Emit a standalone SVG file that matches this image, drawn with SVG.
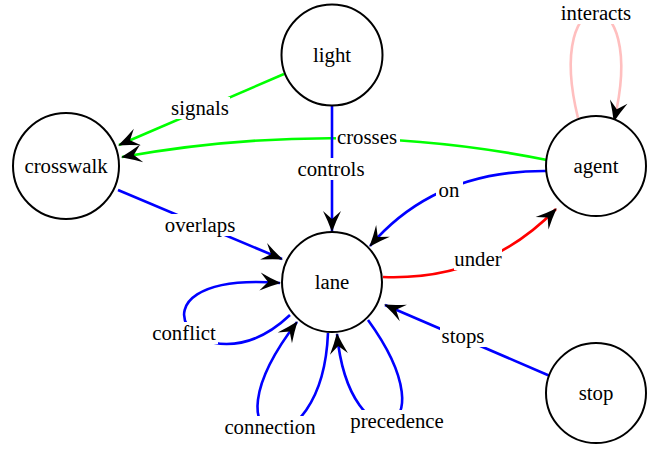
<svg xmlns="http://www.w3.org/2000/svg" width="665" height="449" viewBox="0 0 665 449">
<style>
text{font-family:"Liberation Serif","Times New Roman",serif;font-size:20.8px;fill:#000;text-anchor:middle}
.node circle{fill:#fff;stroke:#000;stroke-width:2}
.e{fill:none;stroke-width:2.6;marker-end:url(#arr)}
.g{stroke:#00ff00}.b{stroke:#0000ff}.r{stroke:#ff0000}.p{stroke:#ffbfbf}
.bg{fill:#fff;stroke:none}
</style>
<defs>
<marker id="arr" markerUnits="userSpaceOnUse" markerWidth="26" markerHeight="22" viewBox="-23 -11 26 22" refX="0" refY="0" orient="auto">
<path d="M1,0 Q-10,-4 -20,-9 L-12,0 L-20,9 Q-10,4 1,0 Z" fill="#000"/>
</marker>
</defs>
<g id="edges">
<path class="e g" d="M284,74 L119,145"/>
<path class="e g" d="M547,160 Q340,118 122,157"/>
<path class="e b" d="M332,106 L332,231"/>
<path class="e b" d="M118,190 L282,259"/>
<path class="e b" d="M547,171 Q435,170 370,246"/>
<path class="e r" d="M383,277 Q486,281 556,209"/>
<path class="e b" d="M550,376 L385,305"/>
<path class="e p" d="M578,118 C543,-24 649,-24 614,121"/>
<path class="e b" d="M290,315 C200,400 110,270 280,283"/>
<path class="e b" d="M328,333 C322,475 195,455 297,322"/>
<path class="e b" d="M368,320 C455,440 350,468 337,334"/>
<g id="labels">
<rect class="bg" x="170" y="97" width="60" height="22"/><text x="200" y="115">signals</text>
<rect class="bg" x="336" y="126" width="64" height="22"/><text x="367" y="144">crosses</text>
<rect class="bg" x="296" y="158" width="71" height="22"/><text x="331" y="176">controls</text>
<rect class="bg" x="162" y="214" width="76" height="22"/><text x="200" y="232">overlaps</text>
<rect class="bg" x="436" y="179" width="27" height="22"/><text x="449" y="197">on</text>
<rect class="bg" x="454" y="248" width="48" height="22"/><text x="478" y="266">under</text>
<rect class="bg" x="440" y="325" width="47" height="22"/><text x="463" y="343">stops</text>
<rect class="bg" x="558" y="2" width="76" height="22"/><text x="596" y="20">interacts</text>
<rect class="bg" x="150" y="322" width="68" height="22"/><text x="184" y="340">conflict</text>
<rect class="bg" x="222" y="416" width="96" height="24"/><text x="270" y="434">connection</text>
<rect class="bg" x="348" y="410" width="98" height="24"/><text x="397" y="428">precedence</text>
</g>
</g>
<g id="light" class="node"><circle cx="332" cy="55" r="50.5"/><text x="332" y="62">light</text></g>
<g id="crosswalk" class="node"><circle cx="66" cy="166" r="53"/><text x="66" y="173">crosswalk</text></g>
<g id="lane" class="node"><circle cx="332" cy="282" r="50"/><text x="332" y="289">lane</text></g>
<g id="agent" class="node"><circle cx="596" cy="166" r="50"/><text x="596" y="173">agent</text></g>
<g id="stop" class="node"><circle cx="596" cy="393" r="50"/><text x="596" y="400">stop</text></g>
</svg>
